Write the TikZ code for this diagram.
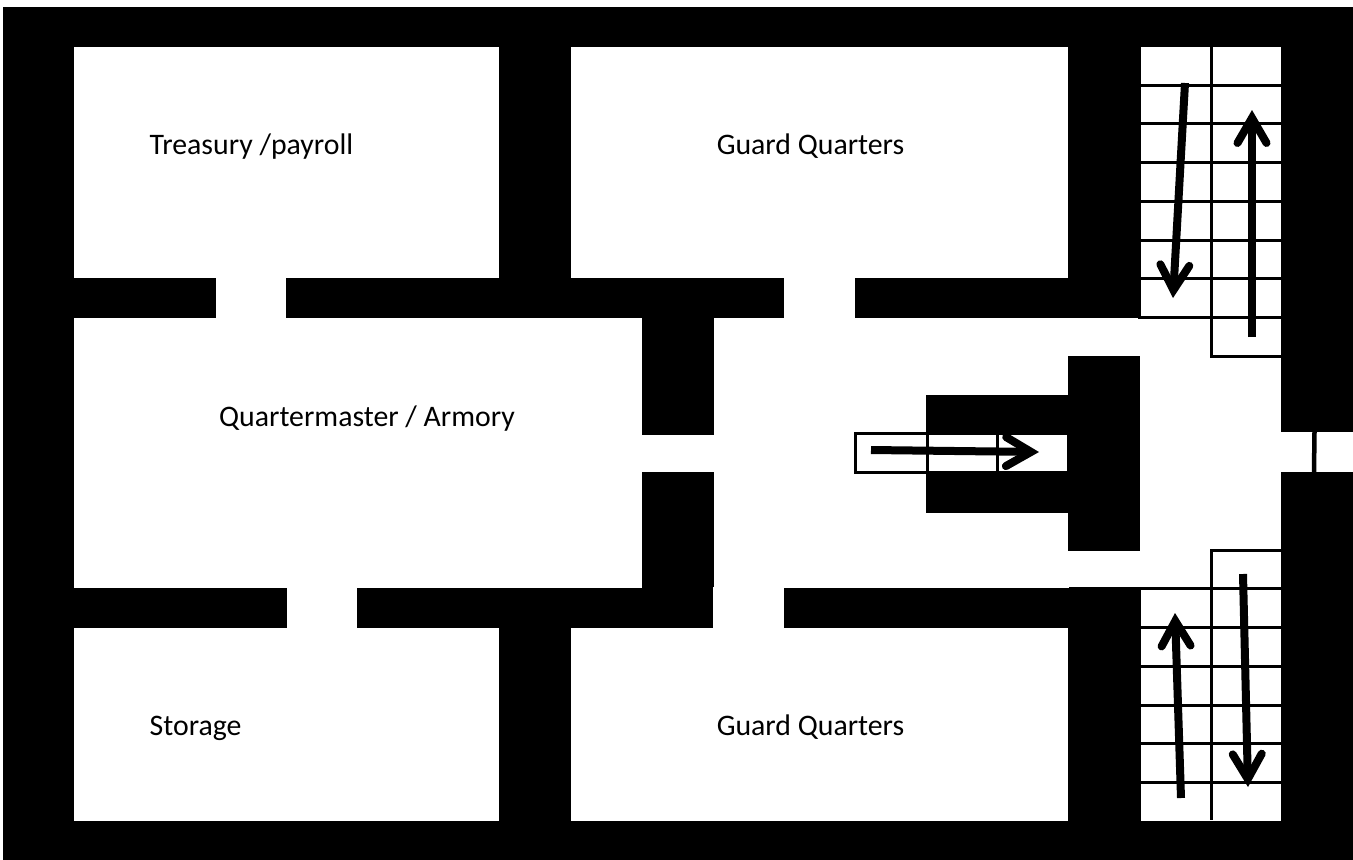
\documentclass[tikz,border=0pt]{standalone}
\usepackage{fontspec}
\setmainfont{Carlito}
\usetikzlibrary{arrows.meta}
\tikzset{
  wall/.style={fill=black,draw=none},
  room/.style={fill=white,draw=none},
  tread/.style={draw=black,line width=3pt,line cap=butt},
  flow/.style={draw=black,line width=8pt,line cap=butt,
    -{Straight Barb[length=25pt,width=29pt,line width=8pt,line cap=round,line join=miter]}},
  label/.style={font=\fontsize{29.8}{34}\selectfont,text=black,inner sep=0pt},
}
\begin{document}
\begin{tikzpicture}[x=1pt,y=-1pt]
\useasboundingbox (0,0) rectangle (1353,860);
\fill[white] (0,0) rectangle (1353,860);
% mass of the walls
\path[wall] (3,7) rectangle (1353,860);
% rooms
\path[room] (74,47) rectangle (499,278);
\path[room] (571,47) rectangle (1068,278);
\path[room] (74,318) rectangle (642,588);
\path[room] (74,628) rectangle (499,821);
\path[room] (571,628) rectangle (1068,821);
% hall
\path[room] (714,318) rectangle (1281,588);
% doors
\path[room] (216,277) rectangle (286,319);
\path[room] (784,277) rectangle (855,319);
\path[room] (287,587) rectangle (357,629);
\path[room] (713,587) rectangle (784,629);
\path[room] (641,435) rectangle (715,472);
\path[room] (1280,432) rectangle (1353,472);
% stair wells
\path[room] (1141,47) rectangle (1281,319);
\path[room] (1141,587) rectangle (1281,821);
% central block
\path[wall] (1068,356) rectangle (1140,551);
\path[wall] (926,395) rectangle (1069,513);
\path[room] (926,435) rectangle (1067,471);
% upper stairs
\foreach \y in {85,123,162,201,240,278}
  \draw[tread] (1141,\y) -- (1281,\y);
\draw[tread] (1138,317) -- (1281,317);
\draw[tread] (1211,47) -- (1211,356) -- (1281,356);
% lower stairs
\draw[tread] (1069,588) -- (1281,588);
\foreach \y in {627,666,705,743,782}
  \draw[tread] (1141,\y) -- (1281,\y);
\draw[tread] (1281,550) -- (1211,550) -- (1211,820);
% stairs in the alcove
\draw[tread] (1067,433.8) -- (855,433.8) -- (855,472.2) -- (1067,472.2);
\path[wall] (926,395) rectangle (1067,432.5);
\path[wall] (926,473.5) rectangle (1067,513);
\draw[tread] (927,435) -- (927,471);
\draw[tread] (997,435) -- (997,471);
% door bar
\draw[draw=black,line width=4.5pt] (1314.5,432) -- (1314,472);
% arrows
\coordinate (a1s) at (1185,83);   \coordinate (a1e) at (1173,298);
\coordinate (a2s) at (1252,337);  \coordinate (a2e) at (1252,110);
\coordinate (a3s) at (1181,798);  \coordinate (a3e) at (1175,613);
\coordinate (a4s) at (1243,574);  \coordinate (a4e) at (1248,787);
\coordinate (a5s) at (871,450);   \coordinate (a5e) at (1039,452);
\draw[flow] (a1s) -- (a1e);
\draw[flow] (a2s) -- (a2e);
\draw[flow] (a3s) -- (a3e);
\draw[flow] (a4s) -- (a4e);
\draw[flow] (a5s) -- (a5e);
% labels
\node[label,anchor=base west] (treasury) at (149.5,154.7) {Treasury /payroll};
\node[label,anchor=base] (guardtop) at (810.5,154.7) {Guard Quarters};
\node[label,anchor=base] (armory) at (367,426.5) {Quartermaster / Armory};
\node[label,anchor=base west] (storage) at (149.5,735.3) {Storage};
\node[label,anchor=base] (guardlow) at (810.5,735.3) {Guard Quarters};
\end{tikzpicture}
\end{document}
